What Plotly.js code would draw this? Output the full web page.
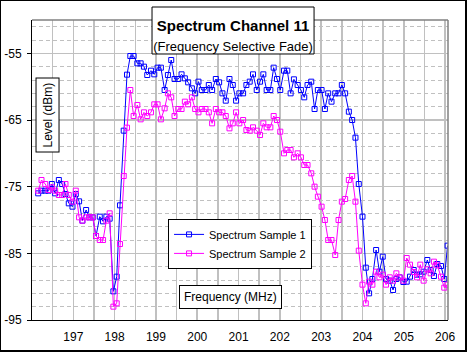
<!DOCTYPE html>
<html>
<head>
<meta charset="utf-8">
<script src="https://cdn.plot.ly/plotly-3.0.1.min.js"></script>
<style>
  html, body { margin: 0; padding: 0; background: #fff; }
  #chart { width: 464px; height: 349px; border: 1px solid #000; border-right-width: 2px; border-bottom-width: 2px; }
</style>
</head>
<body>
<div id="chart"></div>
<script>
// Sample frequencies (MHz)
const freqMHz = [
  196.15,196.23,196.32,196.40,196.48,196.56,196.65,196.73,196.81,196.89,
  196.98,197.06,197.14,197.22,197.31,197.39,197.47,197.55,197.64,197.72,
  197.80,197.88,197.97,198.05,198.13,198.22,198.30,198.38,198.46,198.55,
  198.63,198.71,198.79,198.88,198.96,199.04,199.12,199.21,199.29,199.37,
  199.45,199.54,199.62,199.70,199.78,199.87,199.95,200.03,200.11,200.20,
  200.28,200.36,200.45,200.53,200.61,200.69,200.78,200.86,200.94,201.02,
  201.11,201.19,201.27,201.35,201.44,201.52,201.60,201.68,201.77,201.85,
  201.93,202.01,202.10,202.18,202.26,202.34,202.43,202.51,202.59,202.67,
  202.76,202.84,202.92,203.01,203.09,203.17,203.25,203.34,203.42,203.50,
  203.58,203.67,203.75,203.83,203.91,204.00,204.08,204.16,204.24,204.33,
  204.41,204.49,204.57,204.66,204.74,204.82,204.90,204.99,205.07,205.15,
  205.24,205.32,205.40,205.48,205.57,205.65,205.73,205.81,205.90,205.98,
  206.06
];

// Spectrum Sample 1 (dBm)
const sample1 = [
  -76,-75.6,-75.6,-75.6,-74.6,-76,-74,-74.6,-76.1,-77.5,
  -78,-76.1,-77.2,-80.1,-78.5,-79.6,-79.6,-82.4,-79.5,-80.2,
  -79.5,-79.8,-90.7,-88.5,-77.8,-66.6,-58.2,-55.4,-55.4,-56.5,
  -56.5,-57,-58.25,-57.6,-58.15,-57.15,-57.15,-60.5,-58.25,-56,
  -58.85,-58.85,-58.15,-58.75,-59.35,-60.25,-61,-59.25,-60.5,-60.5,
  -59.75,-60.5,-58.85,-59.35,-61,-62.1,-58.85,-59.75,-62.1,-61,
  -61,-59.75,-59.25,-58.15,-60.5,-59.25,-58.15,-60.5,-60.5,-57.15,
  -58.85,-60.5,-57.6,-57.6,-61,-58.9,-59.75,-60.5,-61.6,-59.75,
  -59.25,-63.35,-60.5,-60.5,-63.35,-61,-62.25,-61,-61,-59.75,
  -61,-63.75,-65,-67.65,-74.6,-79.5,-87.15,-91,-88.85,-84.5,
  -87.75,-85.5,-88.85,-89.1,-90.5,-88.85,-88.6,-89.3,-89.25,-88.5,
  -87.5,-88.2,-88.15,-87.75,-86,-87.5,-88.4,-86.6,-86.9,-88.85,
  -83.85
];

// Spectrum Sample 2 (dBm)
const sample2 = [
  -75.6,-74,-74.6,-75.5,-75.1,-75.6,-76.25,-76.25,-74.6,-76.25,
  -77.25,-75.6,-79.6,-80.1,-79.6,-79.6,-79.6,-82.4,-83,-83,
  -80.1,-79,-93,-92.5,-83.6,-73.4,-66.15,-60.5,-64.4,-62.75,
  -64.9,-63.85,-64.4,-63.85,-62.65,-62.65,-64.9,-63.25,-61,-61.6,
  -64.4,-63.35,-63.35,-62.25,-62.65,-61.6,-63.35,-63.85,-63.35,-63.35,
  -63.85,-65.5,-63.35,-63.85,-63.85,-64.4,-66.25,-65.5,-63.85,-65.5,
  -65,-66.5,-66.6,-66.1,-66.6,-67.25,-65.5,-66.1,-66.1,-64.4,
  -65,-66.75,-70,-69.5,-69.5,-70.6,-70,-70.6,-71.75,-71.75,
  -73,-75,-76.5,-78,-80,-83,-83,-85.25,-80,-77.25,
  -76.85,-74,-73.4,-77.25,-84.6,-89.7,-92.5,-89.25,-89.7,-87.75,
  -88.6,-88.2,-89.7,-88.6,-89.1,-88,-88.6,-89.1,-85.7,-86.7,
  -87.8,-88.6,-86.7,-89.1,-87.4,-88,-86.25,-86.8,-88.5,-90.15,
  -89.7
];

const seriesNames = ['Spectrum Sample 1', 'Spectrum Sample 2'];
const xTickVals = [197, 198, 199, 200, 201, 202, 203, 204, 205, 206];
const yTickVals = [-95, -85, -75, -65, -55];
const yTickText = ['-95', '-85', '-75', '-65', '-55'];

const FONT = 'Arial, "Liberation Sans", sans-serif';
const GRID = '#C0C0C0';

const traces = [
  {
    x: freqMHz, y: sample1, name: seriesNames[0], type: 'scatter', mode: 'lines+markers',
    line: { color: '#0000FF', width: 1 },
    marker: { symbol: 'square-open', size: 5, color: '#0000FF', line: { width: 1, color: '#0000FF' } }
  },
  {
    x: freqMHz, y: sample2, name: seriesNames[1], type: 'scatter', mode: 'lines+markers',
    line: { color: '#FF00FF', width: 1 },
    marker: { symbol: 'square-open', size: 5, color: '#FF00FF', line: { width: 1, color: '#FF00FF' } }
  }
];

const layout = {
  width: 464, height: 349,
  margin: { l: 31, r: 17, t: 19, b: 30, pad: 0 },
  paper_bgcolor: '#FFFFFF', plot_bgcolor: '#FFFFFF',
  font: { family: FONT, size: 12, color: '#000' },
  title: {
    text: '<b>Spectrum Channel 11</b><br><span style="font-size:13px">(Frequency Selective Fade)</span>',
    font: { family: FONT, size: 15, color: '#000' },
    x: 0.5, xanchor: 'center', xref: 'container',
    y: 0.914, yanchor: 'middle', yref: 'container'
  },
  xaxis: {
    range: [196, 206.07],
    tickmode: 'array', tickvals: xTickVals,
    ticks: '', showline: true, linecolor: '#000', linewidth: 1,
    showgrid: true, gridcolor: GRID, gridwidth: 1.5,
    minor: { tickmode: 'linear', tick0: 196, dtick: 0.5, showgrid: true, gridcolor: GRID, gridwidth: 1.5, ticks: '' },
    zeroline: false, tickfont: { family: FONT, size: 12, color: '#000' },
    ticklabelstandoff: 6
  },
  yaxis: {
    range: [-95, -50],
    tickmode: 'array', tickvals: yTickVals, ticktext: yTickText,
    ticks: 'outside', ticklen: 4, tickcolor: '#000', tickwidth: 1,
    showline: true, linecolor: '#000', linewidth: 1,
    showgrid: true, gridcolor: GRID, gridwidth: 1.5,
    minor: { tickmode: 'linear', tick0: -95, dtick: 2, showgrid: true, gridcolor: GRID, gridwidth: 1, griddash: '4px,3px', ticks: '' },
    zeroline: false, tickfont: { family: FONT, size: 12, color: '#000' },
    ticklabelstandoff: 3
  },
  showlegend: true,
  legend: {
    x: 0.327, y: 0.337, xanchor: 'left', yanchor: 'top',
    bgcolor: '#FFFFFF', bordercolor: '#000', borderwidth: 1,
    font: { family: FONT, size: 11, color: '#000' },
    tracegroupgap: 0, itemwidth: 30
  },
  shapes: [
    // plot-area frame (top and right edges)
    { type: 'line', xref: 'paper', yref: 'paper', x0: 0, x1: 1, y0: 1, y1: 1, line: { color: '#808080', width: 1.5 } },
    { type: 'line', xref: 'paper', yref: 'paper', x0: 1, x1: 1, y0: 0, y1: 1, line: { color: '#808080', width: 1.5 } },
    // title box
    { type: 'rect', xref: 'paper', yref: 'paper', x0: 0.2885, x1: 0.678, y0: 0.8867, y1: 1.0433,
      fillcolor: '#FFFFFF', line: { color: '#000', width: 1 }, layer: 'above' }
  ],
  annotations: [
    { text: 'Level (dBm)', xref: 'paper', yref: 'paper', x: 0.0385, y: 0.6817,
      xanchor: 'center', yanchor: 'middle', textangle: -90, showarrow: false,
      font: { family: FONT, size: 12, color: '#000' },
      bgcolor: '#FFFFFF', bordercolor: '#000', borderwidth: 1, borderpad: 4 },
    { text: 'Frequency (MHz)', xref: 'paper', yref: 'paper', x: 0.477, y: 0.078,
      xanchor: 'center', yanchor: 'middle', showarrow: false,
      font: { family: FONT, size: 12, color: '#000' },
      bgcolor: '#FFFFFF', bordercolor: '#000', borderwidth: 1, borderpad: 4 }
  ]
};

Plotly.newPlot('chart', traces, layout, { displayModeBar: false, staticPlot: true });
</script>
</body>
</html>
